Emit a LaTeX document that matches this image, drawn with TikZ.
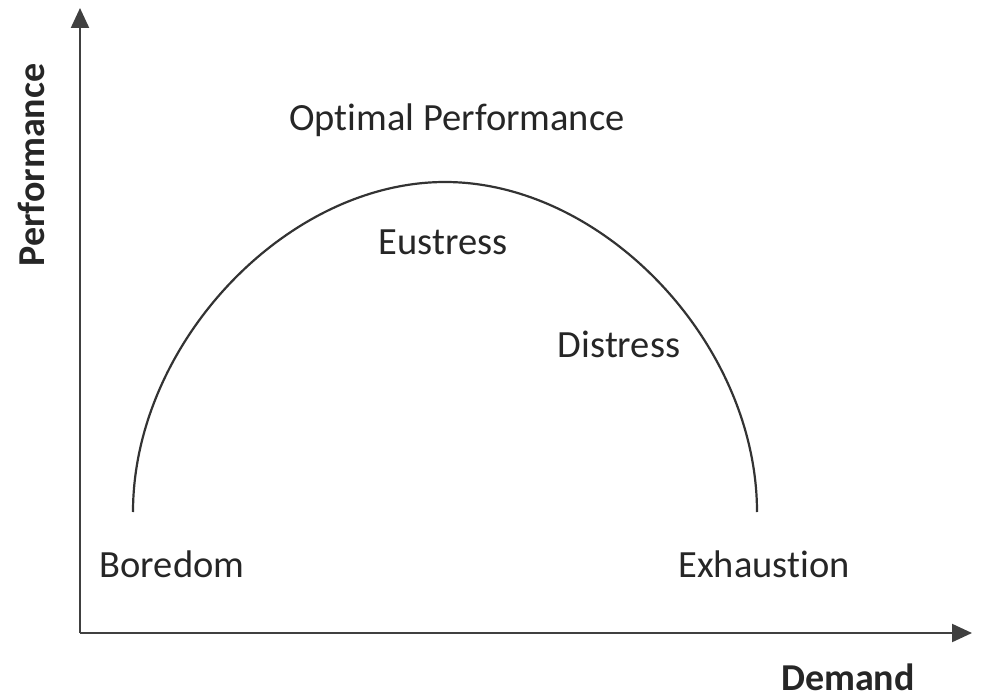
\documentclass[tikz,border=0pt]{standalone}
\usepackage{fontspec}
\setmainfont{Carlito}[Ligatures=CommonOff]
\usetikzlibrary{arrows.meta}
\begin{document}
\begin{tikzpicture}[x=1pt,y=-1pt,
  lbl/.style={anchor=base,inner sep=0pt,font=\fontsize{38.5}{42}\selectfont,text=black!85},
  axlbl/.style={lbl,font=\fontsize{38}{42}\selectfont\bfseries},
  axis/.style={line width=2.2pt,draw=black!75,-{Triangle[length=20pt,width=18pt]}},
  curve/.style={line width=2.2pt,draw=black!80}]
\useasboundingbox (0,0) rectangle (983,698);
\coordinate (O) at (80,633);
\coordinate (ytip) at (80,8);
\coordinate (xtip) at (972,633);
\draw[axis] (O) -- (ytip);
\draw[axis] (O) -- (xtip);
\coordinate (L) at (133,512);
\coordinate (T) at (445,182);
\coordinate (R) at (757,512);
\draw[curve] (L) .. controls (133,344) and (286,182) .. (T)
  .. controls (604,182) and (757,344) .. (R);
\node[lbl] (opt) at (457,131) {Optimal Performance};
\node[lbl] (eu) at (443,254) {Eustress};
\node[lbl] (dis) at (619,357) {Distress};
\node[lbl] (bor) at (172,577) {Boredom};
\node[lbl] (exh) at (764,577) {Exhaustion};
\node[axlbl,rotate=90] (perf) at (44,165) {Performance};
\node[axlbl] (dem) at (848,690) {Demand};
\end{tikzpicture}
\end{document}
